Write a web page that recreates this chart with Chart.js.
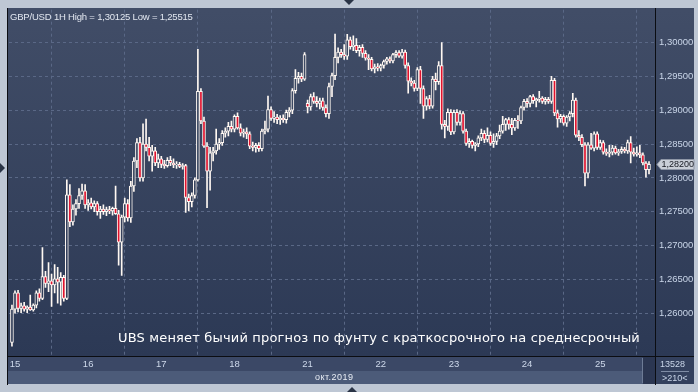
<!DOCTYPE html>
<html>
<head>
<meta charset="utf-8">
<script src="https://cdn.jsdelivr.net/npm/chart.js@4.4.0/dist/chart.umd.min.js"></script>
<style>
html, body { margin: 0; padding: 0; background: #bec7d4; }
#wrap { position: relative; width: 698px; height: 392px; overflow: hidden; }
#chart { position: absolute; left: 0; top: 0; }
.txt { position: absolute; white-space: nowrap; font-family: "Liberation Sans", Arial, sans-serif; line-height: 1; }
</style>
</head>
<body>
<div id="wrap">
  <canvas id="chart" width="698" height="392"></canvas>
  <div class="txt" id="title" style="left:10px;top:12px;font-size:9.5px;color:#e2e7f0">GBP/USD 1H High = 1,30125 Low = 1,25515</div>
  <div class="txt" id="caption" style="left:118px;top:331px;font-size:13px;color:#ffffff;font-family:'DejaVu Sans',sans-serif">UBS меняет бычий прогноз по фунту с краткосрочного на среднесрочный</div>
  <div class="txt" id="month" style="left:315px;top:373px;font-size:9px;color:#e8edf5">окт.2019</div>
  <div class="txt" id="count1" style="left:660px;top:360px;font-size:9px;color:#c9d5e8">13528</div>
  <div class="txt" id="count2" style="left:662px;top:374px;font-size:9px;color:#c9d5e8">&gt;210&lt;</div>
</div>
<script>
// 1H candles, 14 Oct 23:00 .. 25 Oct 16:00 (first bar sits at x = -1)
const firstBar = -1;
const dayLabels = ["15", "16", "17", "18", "21", "22", "23", "24", "25"];
const dayStarts = [0, 24, 48, 72, 96, 120, 144, 168, 192];
const priceTicks = [1.26, 1.265, 1.27, 1.275, 1.28, 1.285, 1.29, 1.295, 1.30];
const yMin = 1.25368, yMax = 1.30485;

const opens = [1.2557,
  1.2606,1.2630,1.2607,1.2611,1.2606,1.2609,1.2605,1.2612,1.2630,1.2622,1.2654,1.2644,1.2648,1.2642,1.2651,1.2646,1.2653,1.2622,1.2775,1.2735,1.2754,1.2762,1.2774,1.2781,
  1.2760,1.2763,1.2757,1.2762,1.2750,1.2754,1.2750,1.2753,1.2751,1.2755,1.2747,1.2705,1.2742,1.2762,1.2741,1.2788,1.2825,1.2852,1.2800,1.2850,1.2845,1.2832,1.2840,1.2822,
  1.2828,1.2820,1.2818,1.2826,1.2822,1.2819,1.2820,1.2817,1.2818,1.2771,1.2765,1.2774,1.2797,1.2928,1.2884,1.2847,1.2810,1.2837,1.2840,1.2850,1.2852,1.2866,1.2869,1.2876,
  1.2872,1.2891,1.2874,1.2866,1.2868,1.2865,1.2847,1.2845,1.2848,1.2843,1.2869,1.2872,1.2901,1.2888,1.2890,1.2886,1.2888,1.2886,1.2897,1.2900,1.2929,1.2947,1.2950,1.2946,
  1.2910,1.2905,1.2920,1.2913,1.2910,1.2914,1.2904,1.2895,1.2935,1.2951,1.2978,1.2986,1.2982,1.2980,1.3004,1.2994,1.2996,1.2988,1.2993,1.2984,1.2977,1.2975,1.2961,1.2964,
  1.2962,1.2966,1.2972,1.2976,1.2973,1.2982,1.2985,1.2980,1.2986,1.2966,1.2943,1.2940,1.2932,1.2960,1.2932,1.2906,1.2917,1.2906,1.2946,1.2942,1.2966,1.2879,1.2876,1.2897,
  1.2868,1.2897,1.2882,1.2895,1.2869,1.2851,1.2854,1.2848,1.2850,1.2859,1.2866,1.2857,1.2863,1.2851,1.2854,1.2862,1.2869,1.2879,1.2886,1.2879,1.2874,1.2885,1.2884,1.2904,
  1.2913,1.2910,1.2920,1.2914,1.2916,1.2918,1.2913,1.2916,1.2913,1.2944,1.2896,1.2887,1.2891,1.2881,1.2890,1.2895,1.2915,1.2863,1.2860,1.2849,1.2807,1.2849,1.2844,1.2865,
  1.2845,1.2852,1.2838,1.2836,1.2838,1.2844,1.2837,1.2839,1.2842,1.2840,1.2852,1.2838,1.2835,1.2837,1.2834,1.2822,1.2812];

const highs = [1.2612,
  1.2633,1.2634,1.2615,1.2616,1.2611,1.2627,1.2614,1.2633,1.2636,1.2697,1.2662,1.2675,1.2658,1.2672,1.2668,1.2660,1.2656,1.2797,1.2790,1.2760,1.2768,1.2784,1.2791,1.2790,
  1.2768,1.2770,1.2766,1.2765,1.2758,1.2760,1.2757,1.2758,1.2757,1.2788,1.2752,1.2745,1.2770,1.2768,1.2795,1.2830,1.2858,1.2860,1.2880,1.2887,1.2860,1.2848,1.2845,1.2835,
  1.2832,1.2826,1.2830,1.2832,1.2828,1.2824,1.2823,1.2821,1.2820,1.2776,1.2778,1.2800,1.2990,1.2932,1.2890,1.2852,1.2845,1.2845,1.2872,1.2858,1.2870,1.2874,1.2882,1.2884,
  1.2893,1.2896,1.2880,1.2872,1.2874,1.2868,1.2853,1.2851,1.2852,1.2872,1.2884,1.2921,1.2905,1.2898,1.2894,1.2892,1.2893,1.2900,1.2904,1.2932,1.2960,1.2956,1.2955,1.2985,
  1.2915,1.2924,1.2926,1.2920,1.2918,1.2918,1.2908,1.2940,1.2955,1.30125,1.2992,1.2990,1.2997,1.3012,1.3008,1.3010,1.3006,1.2996,1.2997,1.2988,1.2982,1.2978,1.2968,1.2969,
  1.2968,1.2974,1.2978,1.2979,1.2984,1.2988,1.2988,1.2990,1.2989,1.2970,1.2948,1.2944,1.2963,1.2965,1.2936,1.2920,1.2922,1.2950,1.2955,1.2972,1.3000,1.2885,1.2902,1.2901,
  1.2900,1.2901,1.2899,1.2898,1.2872,1.2858,1.2856,1.2852,1.2862,1.2872,1.2870,1.2874,1.2868,1.2865,1.2866,1.2878,1.2891,1.2888,1.2889,1.2888,1.2888,1.2892,1.2906,1.2916,
  1.2917,1.2922,1.2923,1.2918,1.2928,1.2920,1.2919,1.2919,1.2950,1.2947,1.2900,1.2894,1.2893,1.2892,1.2898,1.2925,1.2918,1.2870,1.2864,1.2852,1.2852,1.2866,1.2868,1.2868,
  1.2856,1.2855,1.2843,1.2848,1.2848,1.2847,1.2842,1.2846,1.2845,1.2856,1.2861,1.2844,1.2846,1.2848,1.2837,1.2824,1.2824];

const lows = [1.25515,
  1.2600,1.2602,1.2601,1.2603,1.2601,1.2604,1.2603,1.2608,1.2618,1.2620,1.2638,1.2632,1.2610,1.2630,1.2615,1.2612,1.2618,1.2620,1.2728,1.2730,1.2745,1.2755,1.2768,1.2755,
  1.2752,1.2754,1.2750,1.2745,1.2740,1.2746,1.2744,1.2747,1.2745,1.2746,1.2671,1.2656,1.2735,1.2736,1.2734,1.2780,1.2815,1.2795,1.2795,1.2840,1.2825,1.2810,1.2818,1.2815,
  1.2815,1.2814,1.2816,1.2818,1.2815,1.2814,1.2815,1.2813,1.2749,1.2751,1.2757,1.2770,1.2795,1.2880,1.2845,1.2756,1.2782,1.2825,1.2835,1.2842,1.2848,1.2860,1.2862,1.2868,
  1.2868,1.2872,1.2862,1.2860,1.2858,1.2843,1.2840,1.2838,1.2839,1.2840,1.2865,1.2868,1.2885,1.2882,1.2880,1.2879,1.2882,1.2881,1.2890,1.2895,1.2925,1.2940,1.2942,1.2944,
  1.2896,1.2900,1.2910,1.2905,1.2902,1.2900,1.2890,1.2888,1.2920,1.2945,1.2970,1.2978,1.2975,1.2975,1.2990,1.2988,1.2985,1.2980,1.2978,1.2974,1.2960,1.2958,1.2955,1.2958,
  1.2958,1.2962,1.2968,1.2970,1.2970,1.2978,1.2978,1.2977,1.2962,1.2925,1.2936,1.2928,1.2929,1.2910,1.2888,1.2900,1.2902,1.2903,1.2930,1.2938,1.2872,1.2859,1.2870,1.2864,
  1.2865,1.2878,1.2878,1.2866,1.2848,1.2845,1.2844,1.2840,1.2846,1.2855,1.2852,1.2853,1.2848,1.2845,1.2849,1.2858,1.2866,1.2870,1.2872,1.2864,1.2870,1.2873,1.2880,1.2900,
  1.2904,1.2905,1.2910,1.2905,1.2912,1.2910,1.2909,1.2910,1.2910,1.2892,1.2875,1.2882,1.2878,1.2876,1.2884,1.2890,1.2860,1.2855,1.2846,1.2788,1.2800,1.2842,1.2840,1.2842,
  1.2842,1.2835,1.2833,1.2831,1.2834,1.2835,1.2833,1.2836,1.2837,1.2836,1.2822,1.2832,1.2832,1.2830,1.2819,1.2801,1.2806];

const closes = [1.2606,
  1.2630,1.2607,1.2611,1.2606,1.2609,1.2605,1.2612,1.2630,1.2622,1.2654,1.2644,1.2648,1.2642,1.2651,1.2646,1.2653,1.2622,1.2775,1.2735,1.2754,1.2762,1.2774,1.2781,1.2760,
  1.2763,1.2757,1.2762,1.2750,1.2754,1.2750,1.2753,1.2751,1.2755,1.2747,1.2705,1.2742,1.2762,1.2741,1.2788,1.2825,1.2852,1.2800,1.2850,1.2845,1.2832,1.2840,1.2822,1.2828,
  1.2820,1.2818,1.2826,1.2822,1.2819,1.2820,1.2817,1.2818,1.2771,1.2765,1.2774,1.2797,1.2928,1.2884,1.2847,1.2810,1.2837,1.2840,1.2850,1.2852,1.2866,1.2869,1.2876,1.2872,
  1.2891,1.2874,1.2866,1.2868,1.2865,1.2847,1.2845,1.2848,1.2843,1.2869,1.2872,1.2901,1.2888,1.2890,1.2886,1.2888,1.2886,1.2897,1.2900,1.2929,1.2947,1.2950,1.2946,1.2982,
  1.2905,1.2920,1.2913,1.2910,1.2914,1.2904,1.2895,1.2935,1.2951,1.2978,1.2986,1.2982,1.2980,1.3004,1.2994,1.2996,1.2988,1.2993,1.2984,1.2977,1.2975,1.2961,1.2964,1.2962,
  1.2966,1.2972,1.2976,1.2973,1.2982,1.2985,1.2980,1.2986,1.2966,1.2943,1.2940,1.2932,1.2960,1.2932,1.2906,1.2917,1.2906,1.2946,1.2942,1.2966,1.2879,1.2876,1.2897,1.2868,
  1.2897,1.2882,1.2895,1.2869,1.2851,1.2854,1.2848,1.2850,1.2859,1.2866,1.2857,1.2863,1.2851,1.2854,1.2862,1.2869,1.2879,1.2886,1.2879,1.2874,1.2885,1.2884,1.2904,1.2913,
  1.2910,1.2920,1.2914,1.2916,1.2918,1.2913,1.2916,1.2913,1.2944,1.2896,1.2887,1.2891,1.2881,1.2890,1.2895,1.2915,1.2863,1.2860,1.2849,1.2807,1.2849,1.2844,1.2865,1.2845,
  1.2852,1.2838,1.2836,1.2838,1.2844,1.2837,1.2839,1.2842,1.2840,1.2852,1.2838,1.2835,1.2837,1.2834,1.2822,1.2812,1.2820];

if (opens.length !== closes.length || highs.length !== closes.length || lows.length !== closes.length) {
  throw new Error("length mismatch " + opens.length + " " + highs.length + " " + lows.length + " " + closes.length);
}

const bodies = closes.map((c, k) => ({ x: firstBar + k, y: [opens[k], c] }));
const wicks = closes.map((c, k) => ({ x: firstBar + k, y: [lows[k], highs[k]] }));

const candleWhite = "#fff8f2";
const candleRed = "#e0122e";
const bgTop = [65, 77, 103], bgBottom = [44, 57, 85];

function bgAt(price) {
  let t = (yMax - price) / (yMax - yMin);
  let c = bgTop.map((v, j) => Math.round(v + (bgBottom[j] - v) * t));
  return "rgb(" + c.join(",") + ")";
}

const tickFont = { family: "Liberation Sans", size: 9.5 };

const framePlugin = {
  id: "frame",
  beforeDraw(chart) {
    const ctx = chart.ctx, a = chart.chartArea;
    ctx.save();
    ctx.fillStyle = "#bec7d4";
    ctx.fillRect(0, 0, 698, 392);
    let g = ctx.createLinearGradient(0, a.top, 0, a.bottom);
    g.addColorStop(0, "rgb(65,77,103)");
    g.addColorStop(1, "rgb(44,57,85)");
    ctx.fillStyle = g;
    ctx.fillRect(8, 8, 686, a.bottom - 8);
    // date bands
    ctx.fillStyle = "#3b4866";
    ctx.fillRect(8, 357, 635, 14);
    ctx.fillStyle = "#4c5b79";
    ctx.fillRect(8, 371, 635, 13);
    // scroller
    ctx.fillStyle = "#2b3651";
    ctx.fillRect(643, 357, 12, 27);
    ctx.fillStyle = "#6d7b95";
    ctx.fillRect(642, 358, 1, 25);
    // bar counter box
    ctx.fillStyle = "#33405d";
    ctx.fillRect(656, 357, 38, 27);
    ctx.fillStyle = "#7f8ca5";
    ctx.fillRect(661, 371, 28, 1);
    ctx.restore();
  },
  afterDraw(chart) {
    const ctx = chart.ctx, a = chart.chartArea;
    ctx.save();
    ctx.fillStyle = "#0b0d12";
    ctx.fillRect(7, 8, 1, 377);
    ctx.fillRect(8, a.bottom, 686, 1);
    ctx.fillRect(a.right, 8, 1, 377);
    // last price tag
    const last = closes[closes.length - 1];
    const y = Math.round(chart.scales.y.getPixelForValue(last)) + 0.5;
    ctx.beginPath();
    ctx.moveTo(657, y);
    ctx.lineTo(661, y - 5);
    ctx.lineTo(694, y - 5);
    ctx.lineTo(694, y + 5);
    ctx.lineTo(661, y + 5);
    ctx.closePath();
    ctx.fillStyle = "#c9ced7";
    ctx.fill();
    ctx.strokeStyle = "#8e96a6";
    ctx.lineWidth = 1;
    ctx.stroke();
    ctx.fillStyle = "#151820";
    ctx.font = "9px 'Liberation Sans'";
    ctx.textBaseline = "middle";
    ctx.fillText(last.toFixed(5).replace(".", ","), 661.5, y + 0.5);
    // small scroll markers on the frame
    ctx.fillStyle = "#2a3446";
    ctx.beginPath(); ctx.moveTo(344, 0); ctx.lineTo(354, 0); ctx.lineTo(349, 5); ctx.fill();
    ctx.beginPath(); ctx.moveTo(347, 392); ctx.lineTo(357, 392); ctx.lineTo(352, 387); ctx.fill();
    ctx.beginPath(); ctx.moveTo(0, 163); ctx.lineTo(0, 173); ctx.lineTo(5, 168); ctx.fill();
    ctx.restore();
  }
};

new Chart(document.getElementById("chart"), {
  type: "bar",
  data: {
    datasets: [
      {
        label: "body",
        data: bodies,
        grouped: false,
        barThickness: 3,
        borderWidth: 1,
        borderSkipped: false,
        borderColor: candleWhite,
        backgroundColor: (c) => {
          const k = c.dataIndex;
          if (closes[k] < opens[k]) return candleRed;
          return bgAt((opens[k] + closes[k]) / 2);
        }
      },
      {
        label: "wick",
        data: wicks,
        grouped: false,
        barThickness: 1,
        borderWidth: 0,
        backgroundColor: candleWhite
      }
    ]
  },
  options: {
    responsive: false,
    animation: false,
    devicePixelRatio: 1,
    layout: { padding: { left: 9, top: 8, right: 0, bottom: 0 } },
    plugins: { legend: { display: false }, tooltip: { enabled: false } },
    scales: {
      x: {
        type: "linear",
        min: -1.97,
        max: 209.97,
        offset: false,
        afterBuildTicks: (s) => { s.ticks = dayStarts.map(v => ({ value: v })); },
        afterFit: (s) => { s.height = 36; },
        grid: { color: "#5a6886", drawTicks: false },
        border: { display: false, dash: [3, 3] },
        ticks: {
          autoSkip: false,
          maxRotation: 0,
          padding: 3,
          color: "#cdd8ea",
          font: tickFont,
          callback: (v, i) => dayLabels[i]
        }
      },
      y: {
        position: "right",
        min: yMin,
        max: yMax,
        afterBuildTicks: (s) => { s.ticks = priceTicks.map(v => ({ value: v })); },
        afterFit: (s) => { s.width = 43; },
        grid: { color: "#5a6886", drawTicks: false },
        border: { display: false, dash: [3, 3] },
        ticks: {
          padding: 4,
          color: "#c9d5e8",
          font: tickFont,
          callback: (v) => v.toFixed(5).replace(".", ",")
        }
      }
    }
  },
  plugins: [framePlugin]
});

// stretch the overlay texts to the widths they have in the picture
function fitWidth(id, target) {
  const el = document.getElementById(id);
  const n = el.textContent.length;
  const extra = (target - el.getBoundingClientRect().width) / (n - 1);
  el.style.letterSpacing = extra.toFixed(2) + "px";
}
fitWidth("title", 183);
fitWidth("caption", 522);
fitWidth("month", 38);
</script>
</body>
</html>
